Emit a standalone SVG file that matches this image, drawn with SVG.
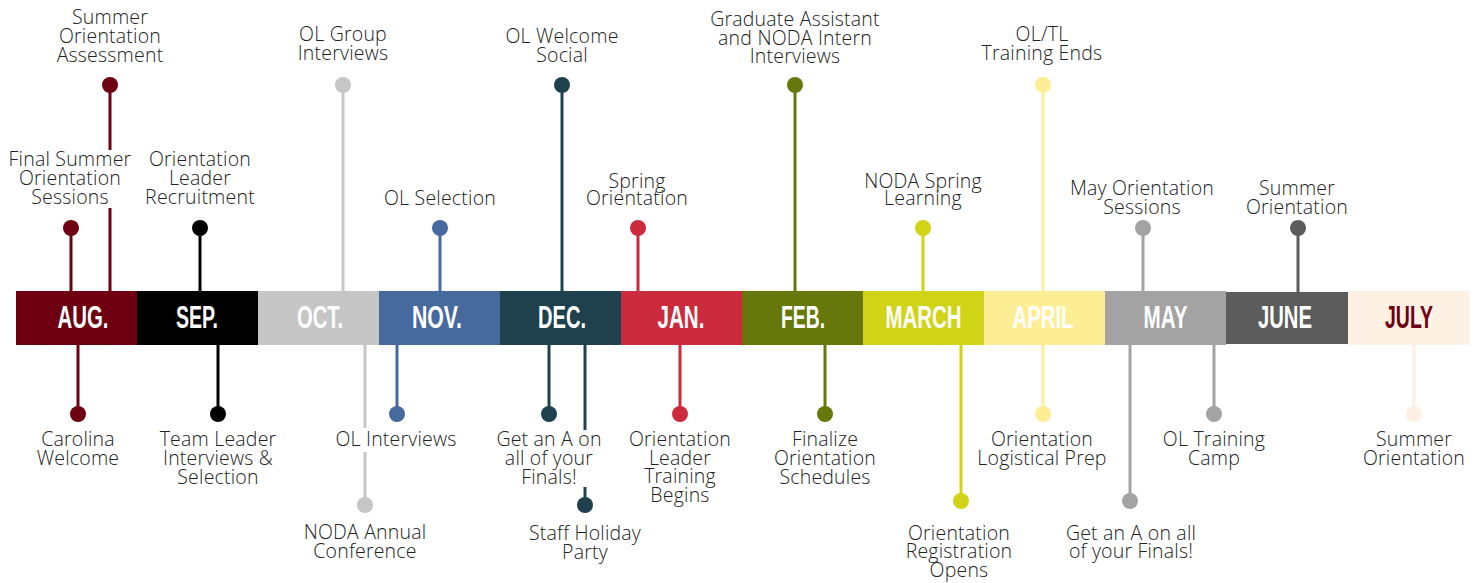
<svg xmlns="http://www.w3.org/2000/svg" width="1480" height="583" viewBox="0 0 1480 583">
<style>
.lbl{font-family:"Open Sans","Noto Sans","DejaVu Sans",sans-serif;font-size:19.5px;font-weight:300;fill:#222;text-anchor:middle;letter-spacing:0.2px}
.mon{font-family:"Liberation Sans",Arial,sans-serif;font-weight:bold;font-size:31px;fill:#fff;text-anchor:middle}
.stem{stroke-width:3;fill:none}
.mask{fill:#fff}
</style>
<rect width="1480" height="583" fill="#fff"/>
<g id="months">
<g id="m-aug"><rect x="16" y="291" width="121" height="54" fill="#6e0011"/><text class="mon" x="83" y="328" textLength="51" lengthAdjust="spacingAndGlyphs">AUG.</text></g>
<g id="m-sep"><rect x="137" y="291" width="121" height="54" fill="#000"/><text class="mon" x="197" y="328" textLength="42" lengthAdjust="spacingAndGlyphs">SEP.</text></g>
<g id="m-oct"><rect x="258" y="291" width="121" height="54" fill="#c6c6c6"/><text class="mon" x="320" y="328" textLength="46" lengthAdjust="spacingAndGlyphs">OCT.</text></g>
<g id="m-nov"><rect x="379" y="291" width="121" height="54" fill="#46699e"/><text class="mon" x="437" y="328" textLength="50" lengthAdjust="spacingAndGlyphs">NOV.</text></g>
<g id="m-dec"><rect x="500" y="291" width="121" height="54" fill="#1f404d"/><text class="mon" x="562" y="328" textLength="48" lengthAdjust="spacingAndGlyphs">DEC.</text></g>
<g id="m-jan"><rect x="621" y="291" width="121" height="54" fill="#cc2b3d"/><text class="mon" x="681" y="328" textLength="47" lengthAdjust="spacingAndGlyphs">JAN.</text></g>
<g id="m-feb"><rect x="742" y="291" width="121" height="54" fill="#66770b"/><text class="mon" x="803" y="328" textLength="44" lengthAdjust="spacingAndGlyphs">FEB.</text></g>
<g id="m-mar"><rect x="863" y="291" width="121" height="54" fill="#d1d317"/><text class="mon" x="923.5" y="328" textLength="76" lengthAdjust="spacingAndGlyphs">MARCH</text></g>
<g id="m-apr"><rect x="984" y="291" width="121" height="54" fill="#fdee95"/><text class="mon" x="1043" y="328" textLength="61" lengthAdjust="spacingAndGlyphs">APRIL</text></g>
<g id="m-may"><rect x="1105" y="291" width="121" height="54" fill="#a3a3a3"/><text class="mon" x="1165.5" y="328" textLength="44" lengthAdjust="spacingAndGlyphs">MAY</text></g>
<g id="m-jun"><rect x="1226" y="292" width="122" height="52" fill="#5c5c5c"/><text class="mon" x="1285" y="328" textLength="54" lengthAdjust="spacingAndGlyphs">JUNE</text></g>
<g id="m-jul"><rect x="1348" y="291" width="121" height="54" fill="#fdf1e3"/><text class="mon" x="1409" y="328" textLength="48" lengthAdjust="spacingAndGlyphs" style="fill:#6e0011">JULY</text></g>
</g>
<g id="connectors">
<line class="stem" x1="110" y1="85" x2="110" y2="291" stroke="#6e0011"/>
<line class="stem" x1="71" y1="228" x2="71" y2="291" stroke="#6e0011"/>
<line class="stem" x1="200" y1="228" x2="200" y2="291" stroke="#000"/>
<line class="stem" x1="343" y1="85" x2="343" y2="291" stroke="#c6c6c6"/>
<line class="stem" x1="440" y1="228" x2="440" y2="291" stroke="#46699e"/>
<line class="stem" x1="562" y1="85" x2="562" y2="291" stroke="#1f404d"/>
<line class="stem" x1="638" y1="228" x2="638" y2="291" stroke="#cc2b3d"/>
<line class="stem" x1="795" y1="85" x2="795" y2="291" stroke="#66770b"/>
<line class="stem" x1="923" y1="228" x2="923" y2="291" stroke="#d1d317"/>
<line class="stem" x1="1043" y1="85" x2="1043" y2="291" stroke="#fdee95"/>
<line class="stem" x1="1143" y1="228" x2="1143" y2="291" stroke="#a3a3a3"/>
<line class="stem" x1="1298" y1="228" x2="1298" y2="292" stroke="#5c5c5c"/>
<line class="stem" x1="78" y1="345" x2="78" y2="414" stroke="#6e0011"/>
<line class="stem" x1="218" y1="345" x2="218" y2="414" stroke="#000"/>
<line class="stem" x1="365" y1="345" x2="365" y2="505" stroke="#c6c6c6"/>
<line class="stem" x1="397" y1="345" x2="397" y2="414" stroke="#46699e"/>
<line class="stem" x1="549" y1="345" x2="549" y2="414" stroke="#1f404d"/>
<line class="stem" x1="585" y1="345" x2="585" y2="505" stroke="#1f404d"/>
<line class="stem" x1="680" y1="345" x2="680" y2="414" stroke="#cc2b3d"/>
<line class="stem" x1="825" y1="345" x2="825" y2="414" stroke="#66770b"/>
<line class="stem" x1="961" y1="345" x2="961" y2="501" stroke="#d1d317"/>
<line class="stem" x1="1043" y1="345" x2="1043" y2="414" stroke="#fdee95"/>
<line class="stem" x1="1130" y1="345" x2="1130" y2="501" stroke="#a3a3a3"/>
<line class="stem" x1="1214" y1="345" x2="1214" y2="414" stroke="#a3a3a3"/>
<line class="stem" x1="1414" y1="345" x2="1414" y2="414" stroke="#fdf0e3"/>
</g>
<g id="e1"><circle cx="110" cy="85" r="8" fill="#6e0011"/><text class="lbl" x="110" y="24">Summer</text><text class="lbl" x="110" y="43">Orientation</text><text class="lbl" x="110" y="62">Assessment</text></g>
<g id="e2"><rect class="mask" x="4" y="150" width="132" height="58"/><circle cx="71" cy="228" r="8" fill="#6e0011"/><text class="lbl" x="70" y="166">Final Summer</text><text class="lbl" x="70" y="185">Orientation</text><text class="lbl" x="70" y="204">Sessions</text></g>
<g id="e3"><circle cx="200" cy="228" r="8" fill="#000"/><text class="lbl" x="200" y="166">Orientation</text><text class="lbl" x="200" y="185">Leader</text><text class="lbl" x="200" y="204">Recruitment</text></g>
<g id="e4"><circle cx="343" cy="85" r="8" fill="#c6c6c6"/><text class="lbl" x="343" y="41">OL Group</text><text class="lbl" x="343" y="60">Interviews</text></g>
<g id="e5"><circle cx="440" cy="228" r="8" fill="#46699e"/><text class="lbl" x="440" y="205">OL Selection</text></g>
<g id="e6"><circle cx="562" cy="85" r="8" fill="#1f404d"/><text class="lbl" x="562" y="43">OL Welcome</text><text class="lbl" x="562" y="62">Social</text></g>
<g id="e7"><circle cx="638" cy="228" r="8" fill="#cc2b3d"/><text class="lbl" x="637" y="188">Spring</text><text class="lbl" x="637" y="205">Orientation</text></g>
<g id="e8"><circle cx="795" cy="85" r="8" fill="#66770b"/><text class="lbl" x="795" y="26">Graduate Assistant</text><text class="lbl" x="795" y="45">and NODA Intern</text><text class="lbl" x="795" y="63">Interviews</text></g>
<g id="e9"><circle cx="923" cy="228" r="8" fill="#d1d317"/><text class="lbl" x="923" y="188">NODA Spring</text><text class="lbl" x="923" y="205">Learning</text></g>
<g id="e10"><circle cx="1043" cy="85" r="8" fill="#fdee95"/><text class="lbl" x="1042" y="41">OL/TL</text><text class="lbl" x="1042" y="60">Training Ends</text></g>
<g id="e11"><circle cx="1143" cy="228" r="8" fill="#a3a3a3"/><text class="lbl" x="1142" y="195">May Orientation</text><text class="lbl" x="1142" y="214">Sessions</text></g>
<g id="e12"><circle cx="1298" cy="228" r="8" fill="#5c5c5c"/><text class="lbl" x="1297" y="195">Summer</text><text class="lbl" x="1297" y="214">Orientation</text></g>
<g id="e13"><circle cx="78" cy="414" r="8" fill="#6e0011"/><text class="lbl" x="78" y="446">Carolina</text><text class="lbl" x="78" y="465">Welcome</text></g>
<g id="e14"><circle cx="218" cy="414" r="8" fill="#000"/><text class="lbl" x="218" y="446">Team Leader</text><text class="lbl" x="218" y="465">Interviews &amp;</text><text class="lbl" x="218" y="484">Selection</text></g>
<g id="e15"><circle cx="365" cy="505" r="8" fill="#c6c6c6"/><text class="lbl" x="365" y="539">NODA Annual</text><text class="lbl" x="365" y="558">Conference</text></g>
<g id="e16"><rect class="mask" x="331" y="428" width="131" height="24"/><circle cx="397" cy="414" r="8" fill="#46699e"/><text class="lbl" x="396" y="446">OL Interviews</text></g>
<g id="e17"><rect class="mask" x="493" y="430" width="113" height="57"/><circle cx="549" cy="414" r="8" fill="#1f404d"/><text class="lbl" x="549" y="446">Get an A on</text><text class="lbl" x="549" y="465">all of your</text><text class="lbl" x="549" y="484">Finals!</text></g>
<g id="e18"><circle cx="585" cy="505" r="8" fill="#1f404d"/><text class="lbl" x="585" y="540">Staff Holiday</text><text class="lbl" x="585" y="559">Party</text></g>
<g id="e19"><circle cx="680" cy="414" r="8" fill="#cc2b3d"/><text class="lbl" x="680" y="446">Orientation</text><text class="lbl" x="680" y="465">Leader</text><text class="lbl" x="680" y="483">Training</text><text class="lbl" x="680" y="502">Begins</text></g>
<g id="e20"><circle cx="825" cy="414" r="8" fill="#66770b"/><text class="lbl" x="825" y="446">Finalize</text><text class="lbl" x="825" y="465">Orientation</text><text class="lbl" x="825" y="484">Schedules</text></g>
<g id="e21"><circle cx="961" cy="501" r="8" fill="#d1d317"/><text class="lbl" x="959" y="540">Orientation</text><text class="lbl" x="959" y="558">Registration</text><text class="lbl" x="959" y="577">Opens</text></g>
<g id="e22"><circle cx="1043" cy="414" r="8" fill="#fdee95"/><text class="lbl" x="1042" y="446">Orientation</text><text class="lbl" x="1042" y="465">Logistical Prep</text></g>
<g id="e23"><circle cx="1130" cy="501" r="8" fill="#a3a3a3"/><text class="lbl" x="1131" y="540">Get an A on all</text><text class="lbl" x="1131" y="558">of your Finals!</text></g>
<g id="e24"><circle cx="1214" cy="414" r="8" fill="#a3a3a3"/><text class="lbl" x="1214" y="446">OL Training</text><text class="lbl" x="1214" y="465">Camp</text></g>
<g id="e25"><circle cx="1414" cy="414" r="8" fill="#fdf0e3"/><text class="lbl" x="1414" y="446">Summer</text><text class="lbl" x="1414" y="465">Orientation</text></g>
</svg>
